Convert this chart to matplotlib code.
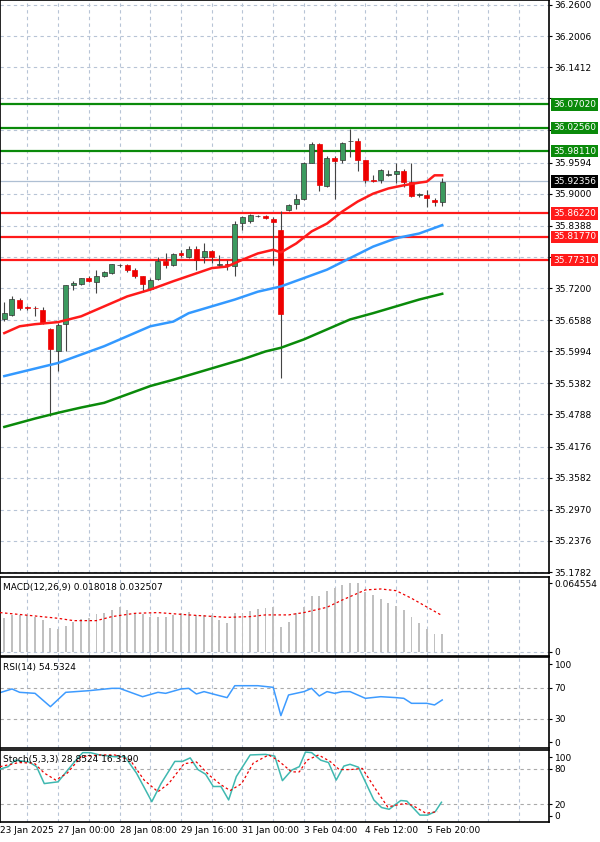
import matplotlib
matplotlib.use("Agg")
import matplotlib.pyplot as plt
import matplotlib.transforms as mtransforms

# ---------------- data ----------------
opens  = [35.660,35.669,35.698,35.684,35.682,35.679,35.642,35.599,35.652,35.726,35.727,35.739,35.731,35.742,35.748,35.764,35.764,35.755,35.742,35.718,
          35.737,35.771,35.764,35.786,35.780,35.795,35.780,35.791,35.764,35.765,35.762,35.845,35.847,35.857,35.857,35.852,35.831,35.868,35.880,35.889,
          35.959,35.994,35.914,35.969,35.964,36.000,36.001,35.964,35.926,35.926,35.936,35.937,35.943,35.923,35.897,35.897,35.888,35.885]
closes = [35.672,35.699,35.682,35.681,35.681,35.653,35.604,35.650,35.726,35.729,35.739,35.733,35.742,35.750,35.765,35.764,35.755,35.742,35.727,35.736,
          35.772,35.764,35.785,35.783,35.795,35.774,35.791,35.780,35.765,35.764,35.843,35.855,35.859,35.858,35.854,35.846,35.671,35.878,35.889,35.959,
          35.994,35.916,35.969,35.962,35.997,36.001,35.964,35.926,35.925,35.945,35.937,35.943,35.923,35.895,35.899,35.891,35.885,35.923]
highs  = [35.694,35.704,35.701,35.686,35.685,35.684,35.644,35.653,35.726,35.733,35.740,35.742,35.755,35.753,35.766,35.766,35.765,35.758,35.743,35.739,
          35.779,35.786,35.786,35.793,35.800,35.800,35.805,35.793,35.783,35.774,35.847,35.857,35.861,35.860,35.859,35.856,35.866,35.880,35.899,35.961,
          35.999,35.997,35.971,35.971,35.999,36.024,36.006,35.965,35.935,35.948,35.945,35.959,35.948,35.958,35.901,35.907,35.891,35.929]
lows   = [35.658,35.666,35.679,35.679,35.666,35.652,35.476,35.561,35.599,35.717,35.725,35.731,35.710,35.741,35.747,35.761,35.750,35.739,35.713,35.717,
          35.736,35.758,35.762,35.780,35.777,35.755,35.767,35.767,35.761,35.755,35.743,35.831,35.845,35.855,35.852,35.764,35.549,35.866,35.870,35.888,
          35.958,35.906,35.913,35.889,35.958,35.970,35.944,35.920,35.923,35.920,35.933,35.920,35.912,35.894,35.894,35.875,35.876,35.876]

ma_red_idx = [0,2,4,7,10,13,16,19,22,25,27,29,31,33,35,36,38,40,42,44,46,48,50,52,54,55,56,57]
ma_red_val = [35.634,35.647,35.651,35.655,35.666,35.685,35.704,35.717,35.733,35.748,35.758,35.761,35.774,35.786,35.793,35.788,35.805,35.828,
              35.843,35.866,35.885,35.900,35.910,35.916,35.921,35.923,35.935,35.935]
ma_blue_idx = [0,7,10,13,16,19,22,24,27,30,33,36,39,42,45,48,51,54,57]
ma_blue_val = [35.552,35.577,35.593,35.609,35.628,35.647,35.656,35.672,35.685,35.698,35.713,35.723,35.739,35.755,35.777,35.799,35.815,35.824,35.840]
ma_green_idx = [0,4,7,10,13,16,19,22,25,28,31,34,36,39,42,45,48,51,54,57]
ma_green_val = [35.455,35.471,35.482,35.492,35.501,35.517,35.533,35.545,35.558,35.571,35.584,35.599,35.606,35.622,35.641,35.660,35.672,35.685,35.698,35.709]

green_levels = [36.0702, 36.0256, 35.9811]
red_levels = [35.8622, 35.8177, 35.7731]
last_price = 35.92356
price_ticks = [36.2600,36.2006,36.1412,36.0818,36.0224,35.9594,35.9000,35.8388,35.7800,35.7200,35.6588,35.5994,35.5382,35.4788,35.4176,35.3582,35.2970,35.2376,35.1782]
hidden_tick_labels = [36.0818, 36.0224, 35.7800]   # covered by level labels in the reference

macd_hist = [0.0315,0.0347,0.0347,0.0347,0.0331,0.0299,0.0220,0.0211,0.0243,0.0283,0.0306,0.0315,0.0356,0.0369,0.0394,0.0425,0.0394,0.0362,0.0356,0.0324,
             0.0331,0.0331,0.0347,0.0369,0.0378,0.0347,0.0347,0.0347,0.0299,0.0268,0.0362,0.0362,0.0387,0.0400,0.0409,0.0419,0.0236,0.0283,0.0362,0.0425,
             0.0526,0.0526,0.0576,0.0598,0.0630,0.0652,0.0646,0.0567,0.0535,0.0494,0.0463,0.0431,0.0394,0.0331,0.0274,0.0211,0.0167,0.0167]
sig_idx = [-0.56,4,7,9,12,14,17,20,24,29,32,34,37,39,42,44,47,49,51,53,57]
sig_val = [0.0369,0.0337,0.0315,0.0293,0.0293,0.0331,0.0362,0.0369,0.0347,0.0324,0.0331,0.0347,0.0347,0.0369,0.0419,0.0488,0.0583,0.0592,0.0576,0.0504,0.0340]

rsi_idx = [-0.56,1,2,4,6,8,11,14,15,18,20,21,23,24,25,26,28,29,30,33,35,36,37,39,40,41,42,43,44,45,47,49,51,52,53,55,56,57]
rsi_val = [63.7,68.4,64.1,62.8,45.7,64.1,66.2,69.2,69.2,58.5,64.1,62.8,68.4,69.2,62.0,65.0,59.8,57.3,72.6,72.6,70.5,34.2,60.7,65.0,69.2,59.4,65.0,62.8,65.0,65.0,56.4,58.5,57.3,56.4,50.0,50.0,47.9,54.3]

st_idx = [-0.5,0.5,1.4,3.2,4.2,5.2,7.0,9.0,10.2,11.2,12.4,14.4,15.7,17.2,19.2,20.4,22.2,23.2,24.2,25.2,26.2,27.2,28.2,29.2,30.2,32.0,34.0,35.2,36.2,37.4,38.4,
          39.2,40.0,41.2,42.2,43.2,44.2,45.0,46.1,48.1,49.1,50.1,51.6,52.4,54.1,55.1,56.1,56.9]
st_main = [80,84,95,92,84,55,58,90,108,108,104,101,101,73,24,55,93,93,99,79,71,50,50,27,67,104,105,102,60,78,84,
           109,108,95,91,61,85,88,83,27,14,11,26,25,1,1,7,23]
sts_idx = [-0.56,1.9,3.9,5.2,6.7,8.2,10.0,12.4,14.4,16.4,18.2,20.0,21.4,23.4,25.0,26.7,28.2,29.4,30.9,32.4,34.4,35.6,37.4,38.4,39.4,40.9,42.4,43.6,45.1,46.6,48.1,49.9,52.1,53.1,54.9,56.4]
sts_val = [84,91,90,73,61,73,101,104,104,95,61,41,55,89,92,69,53,43,55,90,104,95,75,75,95,104,93,79,79,81,50,15,21,18,4,7]

xlabels = ["23 Jan 2025","27 Jan 00:00","28 Jan 08:00","29 Jan 16:00","31 Jan 00:00","3 Feb 04:00","4 Feb 12:00","5 Feb 20:00"]
xlabel_idx = [-0.5,7,15,23,31,39,47,55]

# ---------------- figure ----------------
W, H = 600, 842
fig = plt.figure(figsize=(6, 8.42), dpi=100)
fig.patch.set_facecolor("white")
R = 549 / W
def add(top, bot):
    return fig.add_axes([0, 1 - bot / H, R, (bot - top) / H])
ax = add(0, 573)
axm = add(577, 656)
axr = add(657, 748)
axs = add(750, 822)

XL = (-0.56, 70.9)
grid_x = list(range(3, 72, 4))
gcol = "#b7c4d6"
for a in (ax, axm, axr, axs):
    a.set_xlim(*XL)
    a.set_facecolor("white")
    a.yaxis.tick_right()
    a.tick_params(axis="y", labelsize=6.5, length=2, pad=2)
    a.tick_params(axis="x", length=0, labelbottom=False)
    for x in grid_x:
        a.axvline(x, color=gcol, lw=0.8, ls=(0, (3, 3)), zorder=0)
    for s in a.spines.values():
        s.set_color("black"); s.set_linewidth(1.2)

# main
ax.set_ylim(35.1763, 36.2695)
ax.set_yticks(price_ticks)
ax.set_yticklabels(["" if v in hidden_tick_labels else f"{v:.4f}" for v in price_ticks])
for v in price_ticks:
    ax.axhline(v, color=gcol, lw=0.8, ls=(0, (3, 3)), zorder=0)
ax.axhline(last_price, color="#aebfd3", lw=0.9, zorder=1)

n = len(opens)
idx = list(range(n))
ax.vlines(idx, lows, highs, color="#444444", lw=0.8, zorder=3)
for i in idx:
    o, c = opens[i], closes[i]
    col = "#3c9a5f" if c >= o else "#ee0000"
    h = max(abs(c - o), 0.0008)
    ax.bar(i, h, bottom=min(o, c), width=0.65, color=col, edgecolor="#333333" if c >= o else col, lw=0.5, zorder=4)

ax.plot(ma_green_idx, ma_green_val, color="#0a8a0a", lw=1.8, zorder=5)
ax.plot(ma_blue_idx, ma_blue_val, color="#3399ff", lw=1.8, zorder=5)
ax.plot(ma_red_idx, ma_red_val, color="#ff1a1a", lw=1.8, zorder=5)

trans = mtransforms.blended_transform_factory(ax.transAxes, ax.transData)
for v in green_levels:
    ax.axhline(v, color="#0a8a0a", lw=1.6, zorder=2)
    ax.text(1.007, v, f"{v:.5f}", transform=trans, fontsize=6.5, color="white", va="center", ha="left",
            bbox=dict(boxstyle="square,pad=0.2", fc="#0a8a0a", ec="none"), clip_on=False, zorder=10)
for v in red_levels:
    ax.axhline(v, color="#ff1a1a", lw=1.6, zorder=2)
    ax.text(1.007, v, f"{v:.5f}", transform=trans, fontsize=6.5, color="white", va="center", ha="left",
            bbox=dict(boxstyle="square,pad=0.2", fc="#ff1a1a", ec="none"), clip_on=False, zorder=10)
ax.text(1.007, last_price, f"{last_price:.5f}", transform=trans, fontsize=6.5, color="white", va="center", ha="left",
        bbox=dict(boxstyle="square,pad=0.2", fc="black", ec="none"), clip_on=False, zorder=10)

# MACD
axm.set_ylim(-0.0041, 0.0705)
axm.set_yticks([0, 0.064554]); axm.set_yticklabels(["0", "0.064554"])
axm.bar(idx, macd_hist, width=0.25, color="#c0c0c0", zorder=2)
axm.plot(sig_idx, sig_val, color="#ee0000", lw=0.9, ls=(0, (2, 2)), zorder=3)
axm.text(0.005, 0.93, "MACD(12,26,9) 0.018018 0.032507", transform=axm.transAxes, fontsize=6.5, va="top")
axm.axhline(0, color=gcol, lw=0.8, ls=(0, (3, 3)))

# RSI
axr.set_ylim(-7.3, 109.4)
axr.set_yticks([0, 30, 70, 100])
for v in (30, 70):
    axr.axhline(v, color="#aaaaaa", lw=0.8, ls=(0, (3, 3)))
axr.plot(rsi_idx, rsi_val, color="#3d9bff", lw=1.1)
axr.text(0.005, 0.93, "RSI(14) 54.5324", transform=axr.transAxes, fontsize=6.5, va="top")

# Stoch
axs.set_ylim(-10.8, 112.5)
axs.set_yticks([0, 20, 80, 100])
for v in (20, 80):
    axs.axhline(v, color="#aaaaaa", lw=0.8, ls=(0, (3, 3)))
axs.plot(st_idx, st_main, color="#3fb8b0", lw=1.1, zorder=3)
axs.plot(sts_idx, sts_val, color="#ee0000", lw=0.9, ls=(0, (2, 2)), zorder=3)
axs.text(0.005, 0.93, "Stoch(5,3,3) 28.8524 16.3190", transform=axs.transAxes, fontsize=6.5, va="top")

# time labels
for lab, xi in zip(xlabels, xlabel_idx):
    axs.text(xi, -0.06, lab, transform=mtransforms.blended_transform_factory(axs.transData, axs.transAxes),
             fontsize=6.5, ha="left", va="top", clip_on=False)

fig.savefig("out.png", dpi=100, facecolor="white")
